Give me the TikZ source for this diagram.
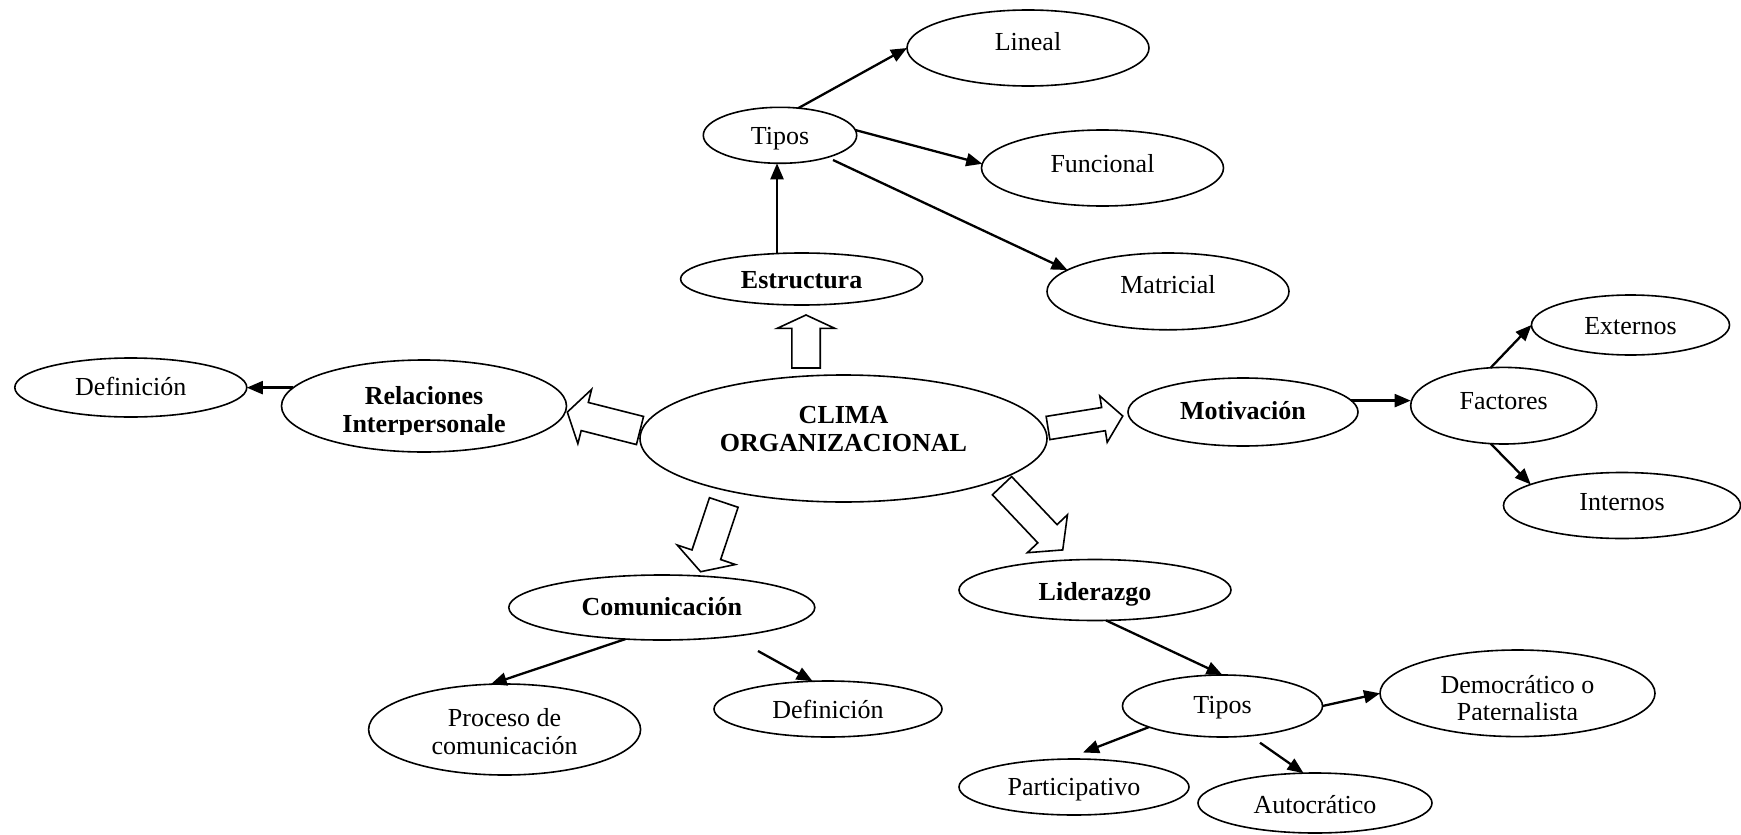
\documentclass[tikz,border=0pt]{standalone}
\usepackage{fontspec}
\setmainfont{Liberation Serif}
\usetikzlibrary{shapes.geometric,arrows.meta}

\tikzset{
  % concept ellipse: width and height given as dimensions
  oval/.style 2 args={draw, ellipse, line width=1.6pt, inner sep=0pt, outer sep=0pt,
    minimum width=#1, minimum height=#2, font=\fontsize{26}{28.5}\selectfont},
  txt/.style={inner sep=0pt, outer sep=0pt, font=\fontsize{26}{28.5}\selectfont},
  strong/.style={font=\fontsize{26}{28.5}\selectfont\bfseries},
  % puts the (last) baseline half of the given height below the centre
  bl/.style={text height=#1, text depth=0pt},
  arr/.style={line width=2.3pt, -{Triangle[length=16pt,width=13pt]}},
  block/.style={line width=1.6pt, line join=miter, miter limit=10},
  % hollow block arrow: length / shaft half width / head half width / head length
  pics/fatarrow/.style args={#1/#2/#3/#4}{code={
    \draw[block] (0,#2) -- ({#1-#4},#2) -- ({#1-#4},#3) -- (#1,0)
      -- ({#1-#4},-#3) -- ({#1-#4},-#2) -- (0,-#2) -- cycle;}}
}

\begin{document}
\begin{tikzpicture}[x=1pt, y=-1pt]
\useasboundingbox (0,0) rectangle (1741,835);

% ---- centre ----
\node[oval={407pt}{127pt}, strong, bl=26.4pt] (clima) at (843.5,438.5)
  {\begin{tabular}[b]{@{}c@{}}CLIMA\\ORGANIZACIONAL\end{tabular}};

% ---- Estructura branch ----
\node[oval={242pt}{52pt}, strong, bl=18pt] (estructura) at (801.6,279) {Estructura};
\node[oval={153.4pt}{56pt}, bl=17.4pt] (tipos1) at (780,135.3) {Tipos};
\node[oval={242pt}{76pt}, bl=4pt] (lineal) at (1028,48) {Lineal};
\node[oval={242pt}{76pt}, bl=8pt] (funcional) at (1102.5,168) {Funcional};
\node[oval={242pt}{76.8pt}, bl=4pt] (matricial) at (1168,291.4) {Matricial};

% ---- Relaciones branch (second line cut by its text box) ----
\node[oval={285pt}{92pt}] (rel) at (424,406) {};
\begin{scope}
  \clip (290,370) rectangle (560,434.3);
  \node[txt, strong, bl=52.6pt] (reltext) at (rel.center)
    {\begin{tabular}[b]{@{}c@{}}Relaciones\\[-0.5pt]Interpersonale\end{tabular}};
\end{scope}
\node[oval={232pt}{59pt}, bl=15pt] (defl) at (130.8,387.5) {Definición};

% ---- Motivación branch ----
\node[oval={230pt}{68pt}, strong, bl=15.8pt] (mot) at (1243,412) {Motivación};
\node[oval={186pt}{76.6pt}, bl=7pt] (fac) at (1503.7,405.7) {Factores};
\node[oval={198pt}{60pt}, bl=18.6pt] (ext) at (1630.5,325) {Externos};
\node[oval={237pt}{66pt}, bl=9pt] (int) at (1622,505.5) {Internos};

% ---- Comunicación branch ----
\node[oval={306pt}{65pt}, strong, bl=16pt] (com) at (661.8,607.5) {Comunicación};
\node[oval={272pt}{91pt}, bl=50pt] (proc) at (504.6,729.5)
  {\begin{tabular}[b]{@{}c@{}}Proceso de\\comunicación\end{tabular}};
\node[oval={228pt}{56pt}, bl=18pt] (defb) at (828,709) {Definición};

% ---- Liderazgo branch ----
\node[oval={272pt}{61pt}, strong, bl=20pt] (lid) at (1095,590) {Liderazgo};
\node[oval={200pt}{62pt}, bl=14.6pt] (tiposb) at (1222.5,706) {Tipos};
\node[oval={275pt}{86.6pt}] (dem) at (1517.5,693.3) {};
\begin{scope}
  \clip (1390,660) rectangle (1645,719);
  \node[txt, bl=54pt] (demtext) at (dem.center)
    {\begin{tabular}[b]{@{}c@{}}Democrático o\\[-1.5pt]Paternalista\end{tabular}};
\end{scope}
\node[oval={230pt}{56pt}, bl=16pt] (part) at (1074,787) {Participativo};
\node[oval={234pt}{60pt}, bl=21.8pt] (auto) at (1315,803) {Autocrático};

% ---- free connector ends ----
\coordinate (tmstart) at (833,160);
\coordinate (cdstart) at (758,651);
\coordinate (tpend) at (1083,752.5);
\coordinate (tastart) at (1260,742.7);

% ---- thin connectors ----
\draw[arr] (estructura.134) -- (estructura.134 |- tipos1.south);
\draw[arr] (tipos1.56) -- (lineal.west);
\draw[arr] (tipos1.4) -- (funcional.178);
\draw[arr] (tmstart) -- (matricial.168);
\draw[arr] (rel.172) -- (rel.172 -| defl.east);
\draw[arr] (mot.6) -- (mot.6 -| fac.west);
\draw[arr] (fac.109) -- (ext.west);
\draw[arr] (fac.-109) -- (int.167);
\draw[arr] (com.-139.5) -- (proc.107);
\draw[arr] (cdstart) -- (defb.119);
\draw[arr] (lid.-70) -- (tiposb.north);
\draw[arr] (tiposb.east) -- (dem.west);
\draw[arr] (tiposb.-164) -- (tpend);
\draw[arr] (tastart) -- (auto.111);

% ---- hollow block arrows out of the centre ----
\pic[rotate=90] at (806,368) {fatarrow=53/14.2/28.7/13.3};
\pic[rotate=165.8] at (640,430.5) {fatarrow=75/14.5/28/18};
\pic[rotate=9.1] at (1048,428) {fatarrow=75.7/11.75/23.5/19.5};
\pic[rotate=251.5] at (723.8,502.5) {fatarrow=73/15.1/30.7/17.9};
\pic[rotate=-46.6] at (1002,485.7) {fatarrow=88.4/13.25/27.6/22.3};
\end{tikzpicture}
\end{document}
